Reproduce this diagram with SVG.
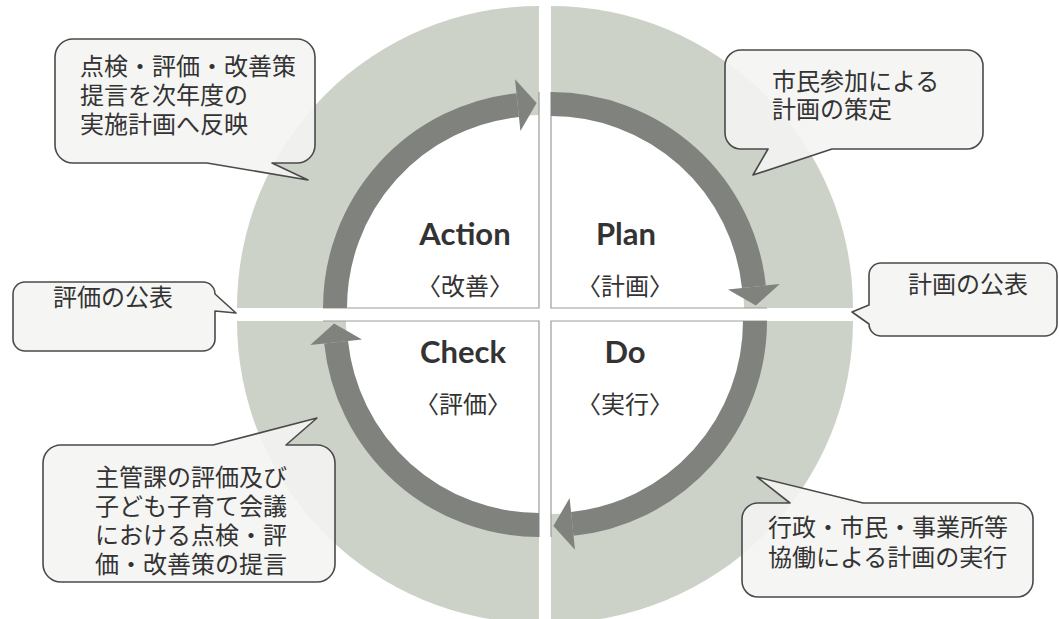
<svg xmlns="http://www.w3.org/2000/svg" width="1059" height="619" viewBox="0 0 1059 619">
  <style>
    .ring { fill: #cdd2c8; }
    .inner { fill: #ffffff; }
    .edge { stroke: #9c9c9a; stroke-width: 1.2; fill: none; }
    .shaft { fill: none; stroke: #7f827d; stroke-width: 24; }
    .head { fill: #7f827d; }
    .bubble { fill: #f4f4f2; fill-opacity: 0.9; stroke: #4a4a4a; stroke-width: 1.6; stroke-linejoin: round; }
    .jp { font-family: "Liberation Sans", "Noto Sans CJK JP", sans-serif; font-size: 24px; fill: #333333; }
    .en { font-family: Lato, "Liberation Sans", sans-serif; font-weight: bold; font-size: 31px; fill: #333333; text-anchor: middle; }
    .sub { text-anchor: middle; }
  </style>

  <rect width="1059" height="619" fill="#ffffff"/>

  <!-- four quadrants of the cycle ring -->
  <g id="quadrant-action">
    <path class="ring" d="M 539 308 H 237 A 302 302 0 0 1 539 6 Z"/>
    <path class="inner" d="M 539 308 H 346 A 193 193 0 0 1 539 115 Z"/>
    <path class="edge" d="M 323 308 H 539 V 92"/>
    <text class="en" x="465" y="245">Action</text>
    <text class="jp sub" x="465" y="295">〈改善〉</text>
  </g>
  <g id="quadrant-plan">
    <path class="ring" d="M 551 308 V 6 A 302 302 0 0 1 853 308 Z"/>
    <path class="inner" d="M 551 308 V 115 A 193 193 0 0 1 744 308 Z"/>
    <path class="edge" d="M 551 92 V 308 H 767"/>
    <text class="en" x="626" y="245">Plan</text>
    <text class="jp sub" x="625" y="295">〈計画〉</text>
  </g>
  <g id="quadrant-do">
    <path class="ring" d="M 551 321 H 853 A 302 302 0 0 1 551 623 Z"/>
    <path class="inner" d="M 551 321 H 744 A 193 193 0 0 1 551 514 Z"/>
    <path class="edge" d="M 767 321 H 551 V 537"/>
    <text class="en" x="625" y="363">Do</text>
    <text class="jp sub" x="625" y="413">〈実行〉</text>
  </g>
  <g id="quadrant-check">
    <path class="ring" d="M 539 321 V 623 A 302 302 0 0 1 237 321 Z"/>
    <path class="inner" d="M 539 321 V 514 A 193 193 0 0 1 346 321 Z"/>
    <path class="edge" d="M 539 537 V 321 H 323"/>
    <text class="en" x="463" y="363">Check</text>
    <text class="jp sub" x="463" y="413">〈評価〉</text>
  </g>

  <!-- curved cycle arrows -->
  <g id="connectors">
    <path class="shaft" d="M 335 308 A 204 204 0 0 1 517.7 105.1"/>
    <polygon class="head" points="515.0,79.2 536.6,103.1 520.4,131.0"/>
    <path class="shaft" d="M 551 104 A 204 204 0 0 1 753.9 286.7"/>
    <polygon class="head" points="779.8,284.0 755.9,305.6 728.0,289.4"/>
    <path class="shaft" d="M 755 321 A 204 204 0 0 1 572.3 523.9"/>
    <polygon class="head" points="575.0,549.8 553.4,525.9 569.6,498.0"/>
    <path class="shaft" d="M 539 525 A 204 204 0 0 1 336.1 342.3"/>
    <polygon class="head" points="310.2,345.0 334.1,323.4 362.0,339.6"/>
  </g>

  <!-- callouts -->
  <g id="callout-action">
    <path class="bubble" d="M 73 39 H 297 A 18 18 0 0 1 315 57 V 145 A 18 18 0 0 1 297 163 H 272 L 308 180 L 207 163 H 73 A 18 18 0 0 1 55 145 V 57 A 18 18 0 0 1 73 39 Z"/>
    <text class="jp"><tspan x="80" y="75">点検・評価・改善策</tspan><tspan x="80" y="104">提言を次年度の</tspan><tspan x="80" y="133">実施計画へ反映</tspan></text>
  </g>
  <g id="callout-plan">
    <path class="bubble" d="M 741 50 H 967 A 16 16 0 0 1 983 66 V 133 A 16 16 0 0 1 967 149 H 832 L 753 175 L 768 149 H 741 A 16 16 0 0 1 725 133 V 66 A 16 16 0 0 1 741 50 Z"/>
    <text class="jp"><tspan x="772" y="90">市民参加による</tspan><tspan x="772" y="118">計画の策定</tspan></text>
  </g>
  <g id="callout-check-publish">
    <path class="bubble" d="M 25 282 H 203 A 12 12 0 0 1 215 294 L 236 313 L 215 311 V 339 A 12 12 0 0 1 203 351 H 25 A 12 12 0 0 1 13 339 V 294 A 12 12 0 0 1 25 282 Z"/>
    <text class="jp" x="53" y="306">評価の公表</text>
  </g>
  <g id="callout-plan-publish">
    <path class="bubble" d="M 881 263 H 1045 A 12 12 0 0 1 1057 275 V 324 A 12 12 0 0 1 1045 336 H 881 A 12 12 0 0 1 869 324 L 852 312 L 869 305 V 275 A 12 12 0 0 1 881 263 Z"/>
    <text class="jp" x="908" y="293">計画の公表</text>
  </g>
  <g id="callout-check">
    <path class="bubble" d="M 61 445 H 213 L 317 418 L 286 445 H 317 A 18 18 0 0 1 335 463 V 564 A 18 18 0 0 1 317 582 H 61 A 18 18 0 0 1 43 564 V 463 A 18 18 0 0 1 61 445 Z"/>
    <text class="jp"><tspan x="95" y="486">主管課の評価及び</tspan><tspan x="95" y="515">子ども子育て会議</tspan><tspan x="95" y="544">における点検・評</tspan><tspan x="95" y="573">価・改善策の提言</tspan></text>
  </g>
  <g id="callout-do">
    <path class="bubble" d="M 758 503 H 790 L 757 477 L 863 503 H 1017 A 16 16 0 0 1 1033 519 V 581 A 16 16 0 0 1 1017 597 H 758 A 16 16 0 0 1 742 581 V 519 A 16 16 0 0 1 758 503 Z"/>
    <text class="jp"><tspan x="768" y="536">行政・市民・事業所等</tspan><tspan x="768" y="566">協働による計画の実行</tspan></text>
  </g>
</svg>
